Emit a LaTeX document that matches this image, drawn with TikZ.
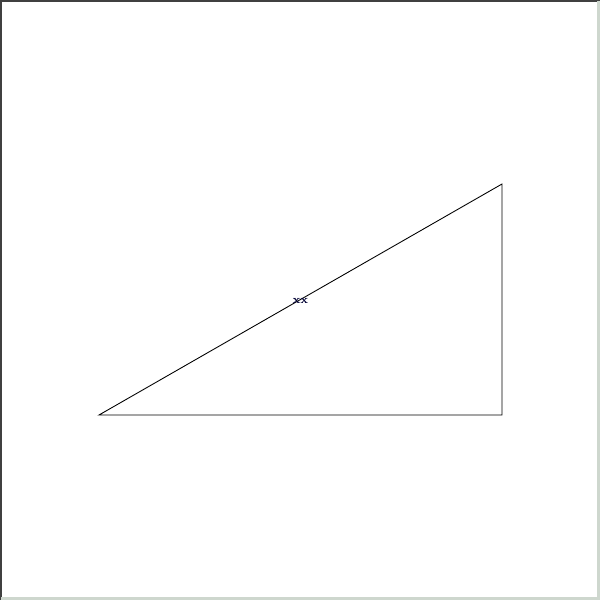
\documentclass[tikz,border=0pt]{standalone}
\usetikzlibrary{calc}
\begin{document}
\begin{tikzpicture}[x=0.02cm,y=-0.02cm]
  \useasboundingbox (0,0) rectangle (600,600);
  \draw[line width=1.5pt,black!75] (1,600) -- (1,1) -- (600,1);
  \draw[line width=1.5pt,green!10!gray!35] (598.5,1) -- (598.5,598.5) -- (1,598.5);
  \coordinate (a) at (99,415);
  \coordinate (b) at (502,415);
  \coordinate (c) at (502,184);
  \draw[line width=0.5pt] (a) -- (b) -- (c) -- cycle;
  \node[font=\fontsize{6.5}{7}\selectfont\bfseries, text=blue!20!black, inner sep=0pt, yshift=-1pt] (mid) at ($(a)!0.5!(c)$) {xx};
\end{tikzpicture}
\end{document}
